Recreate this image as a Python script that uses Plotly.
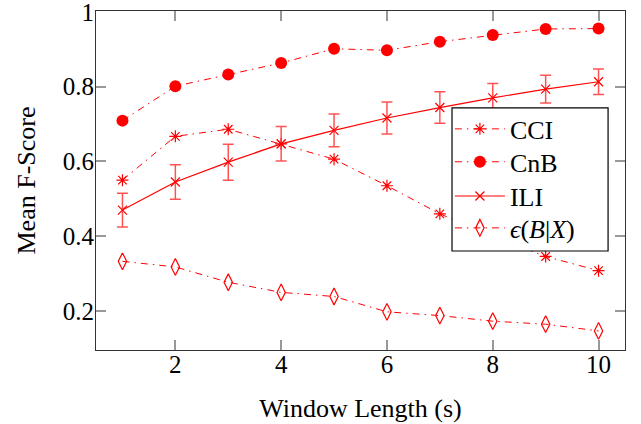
import plotly.graph_objects as go

window = [1, 2, 3, 4, 5, 6, 7, 8, 9, 10]
cci = [0.55, 0.667, 0.686, 0.647, 0.606, 0.535, 0.460, 0.400, 0.346, 0.308]
cnb = [0.709, 0.801, 0.832, 0.863, 0.901, 0.897, 0.920, 0.938, 0.954, 0.955]
ili = [0.470, 0.545, 0.598, 0.647, 0.683, 0.716, 0.744, 0.770, 0.793, 0.813]
ili_err = [0.045, 0.046, 0.048, 0.046, 0.044, 0.043, 0.042, 0.038, 0.037, 0.034]
eps = [0.333, 0.318, 0.277, 0.250, 0.239, 0.198, 0.188, 0.173, 0.165, 0.147]

x_ticks = [2, 4, 6, 8, 10]
y_ticks = [0.2, 0.4, 0.6, 0.8, 1.0]
y_tick_text = ["0.2", "0.4", "0.6", "0.8", "1"]

RED = "#ff0000"
DASHDOT = "7px,5px,1.5px,5px"
FONT = "Liberation Serif"

fig = go.Figure()
fig.add_trace(go.Scatter(
    x=window, y=cci, name="CCI", mode="lines+markers", legend="legend",
    line=dict(color=RED, width=1, dash=DASHDOT),
    marker=dict(symbol="asterisk-open", size=10, color=RED, line=dict(color=RED, width=1.2)),
))
fig.add_trace(go.Scatter(
    x=window, y=cnb, name="CnB", mode="lines+markers", legend="legend2",
    line=dict(color=RED, width=1, dash=DASHDOT),
    marker=dict(symbol="circle", size=12, color=RED),
))
fig.add_trace(go.Scatter(
    x=window, y=ili, name="ILI", mode="lines+markers", legend="legend3",
    line=dict(color=RED, width=1.2),
    marker=dict(symbol="x-thin-open", size=9, color=RED, line=dict(color=RED, width=1.2)),
    error_y=dict(type="data", array=ili_err, visible=True, color="rgba(255,40,40,0.8)",
                 thickness=1.5, width=5.5),
))
fig.add_trace(go.Scatter(
    x=window, y=eps, name="<i>ϵ</i>(<i>B</i>|<i>X</i>)", mode="lines+markers", legend="legend4",
    line=dict(color=RED, width=1, dash=DASHDOT),
    marker=dict(symbol="diamond-tall-open", size=12, color=RED, line=dict(color=RED, width=1.2)),
))

axis_common = dict(
    showgrid=False, zeroline=False, showline=True, linecolor="#333", linewidth=1.2,
    mirror="ticks", ticks="inside", ticklen=10, tickcolor="#999", tickwidth=1.5,
    tickfont=dict(family=FONT, size=25, color="black"), automargin=False,
    ticklabeloverflow="allow",
)

def legend_at(ypos):
    return dict(x=0.669, y=ypos, xanchor="left", yanchor="middle",
                bgcolor="rgba(0,0,0,0)", borderwidth=0,
                font=dict(family=FONT, size=26, color="black"), itemwidth=50)

fig.update_layout(
    width=641, height=424,
    margin=dict(l=96, r=16, t=11, b=74),
    paper_bgcolor="white", plot_bgcolor="white",
    font=dict(family=FONT, color="black"),
    xaxis=dict(range=[0.5, 10.5], tickvals=x_ticks, ticklabelstandoff=-8,
               title=dict(text="Window Length (s)", font=dict(family=FONT, size=26), standoff=21),
               **axis_common),
    yaxis=dict(range=[0.096, 1.002], tickvals=y_ticks, ticktext=y_tick_text, ticklabelstandoff=-4,
               title=dict(text="Mean F-Score", font=dict(family=FONT, size=26), standoff=19),
               **axis_common),
    legend=legend_at(0.652),
    legend2=legend_at(0.555),
    legend3=legend_at(0.454),
    legend4=legend_at(0.360),
    shapes=[dict(type="rect", xref="paper", yref="paper", x0=0.673, x1=0.968, y0=0.292, y1=0.714,
                 line=dict(color="black", width=1.2), fillcolor="white", layer="above")],
    showlegend=True,
)

fig.write_html("out.html", config={"displayModeBar": False},
               post_script="document.body.style.margin='0';")
